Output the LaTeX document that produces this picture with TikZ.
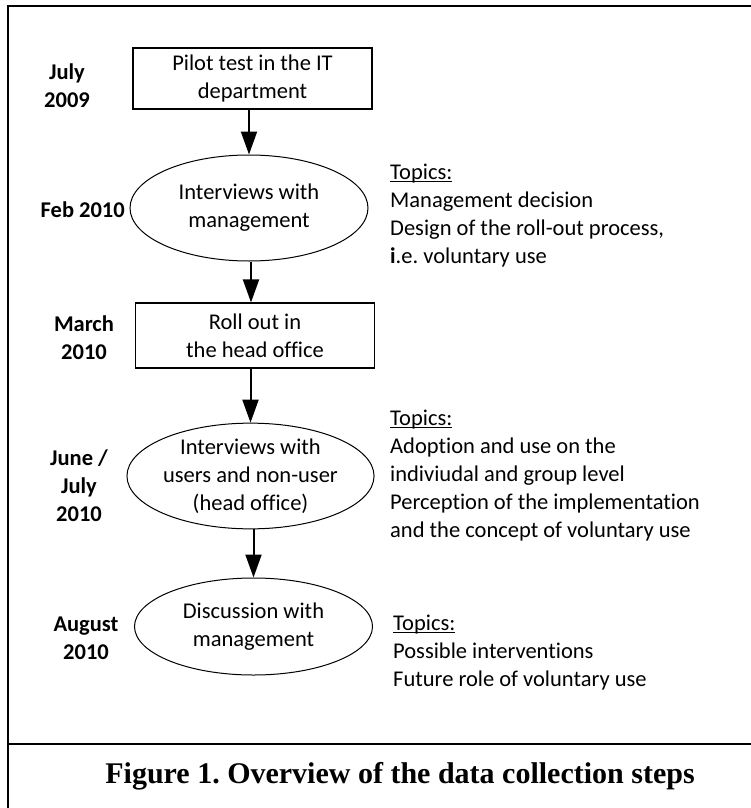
\documentclass[tikz,border=0pt]{standalone}
\usepackage{fontspec}
\setmainfont{Carlito}[Ligatures=NoCommon]
\newfontfamily\capfont{Liberation Serif}
\usetikzlibrary{shapes.geometric,arrows.meta}

% underlined heading of a topic list, rule close to the baseline
\newcommand\topichead{\setbox0\hbox{Topics:}\rlap{\rule[-2.5pt]{\wd0}{1pt}}\box0}

\begin{document}
\begin{tikzpicture}[x=1pt,y=-1pt,
  every node/.style={font=\fontsize{22.5}{28}\selectfont, inner sep=0pt},
  stepbox/.style={draw, line width=1.1pt, minimum width=239pt, align=center},
  stepoval/.style={ellipse, draw, line width=1pt, minimum width=238pt, align=center},
  datelbl/.style={font=\fontsize{22.5}{28}\selectfont\bfseries, align=center},
  topicblk/.style={align=left, anchor=west},
  flow/.style={line width=2pt, -{Triangle[length=23pt,width=16pt]}},
  frame/.style={line width=1.8pt}
]
\useasboundingbox (0,0) rectangle (751,808);

% outer frame and caption divider
\draw[frame] (751,6) -- (8,6) -- (8,808);
\draw[frame] (8,744) -- (751,744);

% steps
\node[stepbox, minimum height=61pt] (p1) at (252.5,78.5) {Pilot test in the IT\\department};
\node[stepoval, minimum height=106pt] (e1) at (249,208) {Interviews with\\management};
\node[stepbox, minimum height=65pt] (p2) at (255,335.5) {Roll out in\\the head office};
\node[stepoval, minimum width=239pt, minimum height=102pt] (e2) at (250.5,476) {Interviews with\\users and non-user\\(head office)};
\node[stepoval, minimum height=97pt] (e3) at (253.5,626.5) {Discussion with\\management};

% dates
\node[datelbl] (d1) at (67,86) {July\\2009};
\node[datelbl, anchor=east] (d2) at (125,210) {Feb 2010};
\node[datelbl] (d3) at (84,338) {March\\2010};
\node[datelbl] (d4) at (79,486) {June /\\July\\2010};
\node[datelbl] (d5) at (86,638) {August\\2010};

% topics
\node[topicblk] (t1) at (390,216) {\topichead\\Management decision\\Design of the roll-out process,\\\textbf{i}.e.\ voluntary use};
\node[topicblk] (t2) at (390,476) {\topichead\\Adoption and use on the\\indiviudal and group level\\Perception of the implementation\\and the concept of voluntary use};
\node[topicblk] (t3) at (393,653) {\topichead\\Possible interventions\\Future role of voluntary use};

% connectors
\draw[flow] (e1.north |- p1.south) -- (e1.north);
\draw[flow] ([xshift=2pt]e1.south) -- ([xshift=2pt]e1.south |- p2.north);
\draw[flow] (e2.north |- p2.south) -- (e2.north);
\draw[flow] (e3.north |- e2.south) -- (e3.north);

% caption
\node[font=\capfont\bfseries\fontsize{30}{35}\selectfont] (cap) at (400,776) {Figure 1.\ Overview of the data collection steps};
\end{tikzpicture}
\end{document}
